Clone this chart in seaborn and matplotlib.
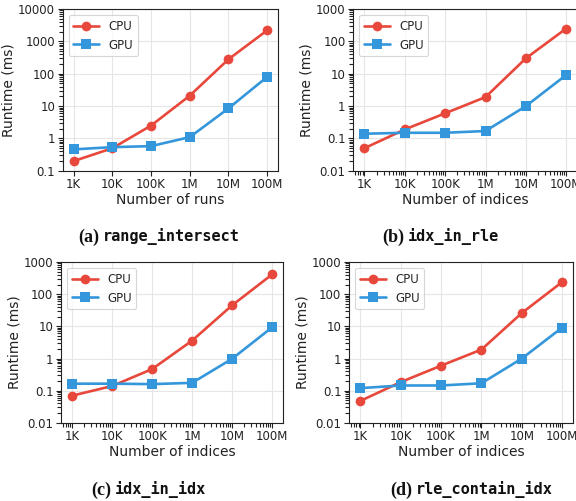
import numpy as np
import pandas as pd
import matplotlib
matplotlib.use("Agg")
import matplotlib.pyplot as plt
import seaborn as sns
from matplotlib.ticker import NullLocator, FixedLocator, NullFormatter

sizes = [1e3, 1e4, 1e5, 1e6, 1e7, 1e8]
size_labels = ["1K", "10K", "100K", "1M", "10M", "100M"]

cpu_a = [0.2, 0.5, 2.5, 21, 280, 2200]
gpu_a = [0.46, 0.54, 0.58, 1.1, 8.5, 80]
cpu_b = [0.05, 0.19, 0.6, 1.9, 30, 250]
gpu_b = [0.14, 0.15, 0.15, 0.17, 1.0, 9.2]
cpu_c = [0.07, 0.14, 0.47, 3.6, 45, 410]
gpu_c = [0.165, 0.165, 0.16, 0.175, 0.98, 9.3]
cpu_d = [0.048, 0.185, 0.6, 1.9, 26, 240]
gpu_d = [0.12, 0.145, 0.145, 0.17, 1.0, 9.2]

panels = [
    ("a", "range_intersect", "Number of runs", cpu_a, gpu_a, (0.1, 10000)),
    ("b", "idx_in_rle", "Number of indices", cpu_b, gpu_b, (0.01, 1000)),
    ("c", "idx_in_idx", "Number of indices", cpu_c, gpu_c, (0.01, 1000)),
    ("d", "rle_contain_idx", "Number of indices", cpu_d, gpu_d, (0.01, 1000)),
]

# axes boxes [left, bottom, width, height] in figure fraction
boxes = {
    "a": [0.109, 0.659, 0.373, 0.323],
    "b": [0.613, 0.659, 0.389, 0.323],
    "c": [0.106, 0.156, 0.385, 0.321],
    "d": [0.606, 0.156, 0.389, 0.321],
}
# caption: x where the code name starts, y centre
captions = {
    "a": (0.179, 0.527),
    "b": (0.708, 0.527),
    "c": (0.200, 0.022),
    "d": (0.722, 0.022),
}


def minor_log_ticks(e_lo, e_hi):
    return [m * 10.0 ** e for e in range(e_lo, e_hi + 1) for m in range(2, 10)]


sns.set_theme(style="ticks")
plt.rcParams["font.family"] = ["DejaVu Sans"]
palette = {"CPU": "#e8483b", "GPU": "#3497db"}
markers = {"CPU": "o", "GPU": "s"}

fig = plt.figure(figsize=(5.76, 5.01), dpi=100)

for key, name, xlabel, cpu, gpu, ylim in panels:
    df = pd.DataFrame({
        "size": sizes * 2,
        "runtime": cpu + gpu,
        "device": ["CPU"] * len(sizes) + ["GPU"] * len(sizes),
    })
    ax = fig.add_axes(boxes[key])
    sns.lineplot(data=df, x="size", y="runtime", hue="device", style="device",
                 markers=markers, dashes=False, palette=palette, ax=ax,
                 linewidth=1.9, markersize=7, markeredgewidth=0)
    ax.set_xscale("log")
    ax.set_yscale("log")
    ax.set_xlim(10 ** 2.72, 10 ** 8.27)
    ax.set_ylim(*ylim)
    ax.grid(True, which="major", color="#e6e6e6", linewidth=0.8)
    ax.set_axisbelow(True)
    ax.tick_params(axis="both", which="major", labelsize=8.5, length=3.5, width=0.8,
                   colors="#222222", pad=2)
    ax.tick_params(axis="both", which="minor", length=3, width=0.8, colors="#222222")

    ax.xaxis.set_major_locator(FixedLocator(sizes))
    ax.set_xticklabels(size_labels)
    if key == "a":
        ax.xaxis.set_minor_locator(NullLocator())
    else:
        ax.xaxis.set_minor_locator(FixedLocator(minor_log_ticks(2, 8)))
        ax.xaxis.set_minor_formatter(NullFormatter())
    lo, hi = ylim
    e_lo, e_hi = int(round(np.log10(lo))), int(round(np.log10(hi)))
    yt = [10.0 ** e for e in range(e_lo, e_hi + 1)]
    ax.yaxis.set_major_locator(FixedLocator(yt))
    ax.set_yticklabels([("%g" % v) for v in yt])
    ax.yaxis.set_minor_locator(FixedLocator(minor_log_ticks(e_lo, e_hi - 1)))
    ax.yaxis.set_minor_formatter(NullFormatter())

    for s in ax.spines.values():
        s.set_color("#222222")
        s.set_linewidth(0.8)
    ax.set_xlabel(xlabel, fontsize=10, labelpad=1, color="#222222")
    ax.set_ylabel("Runtime (ms)", fontsize=10, labelpad=2, color="#222222")
    leg = ax.legend(loc="upper left", fontsize=8.5, frameon=True, handlelength=2.2,
                    borderpad=0.4, labelspacing=0.5, handletextpad=0.8)
    leg.set_title(None)
    leg.get_frame().set_edgecolor("#cccccc")
    leg.get_frame().set_linewidth(0.8)

    cx, cy = captions[key]
    fig.text(cx - 0.007, cy, "(%s)" % key, ha="right", va="center", fontsize=13,
             fontweight="bold", family="Liberation Serif", color="#111111")
    fig.text(cx, cy, name, ha="left", va="center", fontsize=11,
             fontweight="bold", family="DejaVu Sans Mono", color="#111111")

fig.savefig("out.png", dpi=100)
